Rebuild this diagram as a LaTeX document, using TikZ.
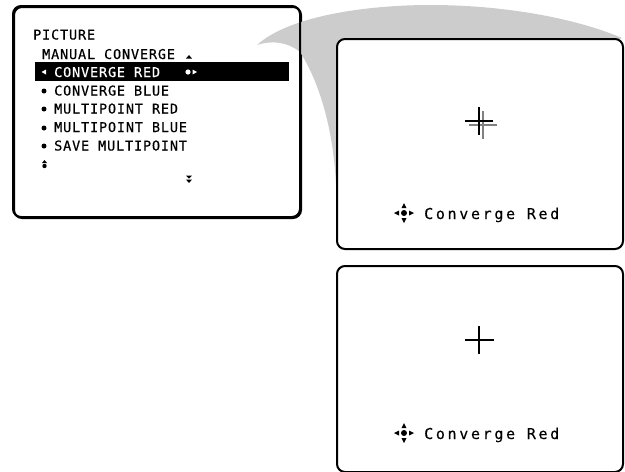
\documentclass[tikz,border=0pt]{standalone}
\usepackage{fontspec}
\setmainfont{DejaVu Sans Mono}
\newfontfamily\menufont[LetterSpace=6.2,FakeBold=0.4]{DejaVu Sans Mono}
\newfontfamily\capfont[LetterSpace=17.8,FakeBold=0.3]{DejaVu Sans Mono}
\usetikzlibrary{calc}
\tikzset{
 x=1pt,y=-1pt,
 panel/.style={draw=black,line width=2pt,rounded corners=8pt,fill=white,inner sep=0pt,minimum width=#1,anchor=north west},
 menutext/.style={anchor=base west,inner sep=0pt,font=\menufont\fontsize{13.5}{14}\selectfont},
 captext/.style={anchor=base west,inner sep=0pt,font=\capfont\fontsize{15}{16}\selectfont},
}
\newcommand{\fourway}[2]{%
 \fill (#1,#2) circle (3);
 \fill (#1-10,#2) -- ++(5,-2.5) -- ++(0,5) -- cycle;
 \fill (#1+10,#2) -- ++(-5,-2.5) -- ++(0,5) -- cycle;
 \fill (#1,#2-10) -- ++(-2.5,5) -- ++(5,0) -- cycle;
 \fill (#1,#2+10) -- ++(-2.5,-5) -- ++(5,0) -- cycle;
}
\begin{document}
\begin{tikzpicture}
\useasboundingbox (0,0) rectangle (625,472);
% menu panel
\node[panel=287pt,minimum height=211pt] (menu) at (13,6) {};
% callout wedge
\fill[black!20] (257,45) .. controls (290,15) and (370,5) .. (430,5) .. controls (510,5) and (580,20) .. (622,38) -- (336,185) .. controls (333,120) and (315,75) .. (300,52) .. controls (288,42) and (272,40) .. (257,45) -- cycle;
\draw[line width=2pt,rounded corners=8pt] (13,6) rectangle (300,217);
% highlight
\fill (35,62) rectangle (289,81);
\node[menutext] (t0) at (33,39.5) {PICTURE};
\node[menutext] (t1) at (42,59) {MANUAL CONVERGE};
\node[menutext,text=white] (t2) at (54,77) {CONVERGE RED};
\node[menutext] (t3) at (54,95.5) {CONVERGE BLUE};
\node[menutext] (t4) at (54,113.5) {MULTIPOINT RED};
\node[menutext] (t5) at (54,132) {MULTIPOINT BLUE};
\node[menutext] (t6) at (54,150.5) {SAVE MULTIPOINT};
% menu glyphs
\fill[white] (41.5,72) -- (46,69.5) -- (46,74.5) -- cycle;
\fill[white] (188,72) circle (2.6);
\fill[white] (197,72) -- (192.5,69.5) -- (192.5,74.5) -- cycle;
\fill (189,55) -- (186,58.5) -- (192,58.5) -- cycle;
\foreach \yy in {91,109,128,146} \fill (44,\yy) circle (2.5);
\fill (44.5,166) circle (2.2);
\fill (44.5,160) -- (42,163) -- (47,163) -- cycle;
\fill (189,183) -- (186,179.5) -- (192,179.5) -- cycle;
\fill (189,178.5) -- (186,175.5) -- (192,175.5) -- cycle;
% panels
\node[panel=286pt,minimum height=210pt] (p1) at (336,38) {};
\node[panel=286pt,minimum height=206pt] (p2) at (336,265) {};
% crosses
\draw[black!50,line width=2.2pt] (469,125) -- (497,125) (483,111) -- (483,139);
\draw[line width=2.4pt] (465,121) -- (493,121) (479,107) -- (479,135);
\draw[line width=1.6pt] (465,340) -- (494,340) (479,326) -- (479,354);
% captions
\fourway{404}{213}
\fourway{404}{433}
\node[captext] (c1) at (424,219) {Converge Red};
\node[captext] (c2) at (424,439) {Converge Red};
\end{tikzpicture}
\end{document}
